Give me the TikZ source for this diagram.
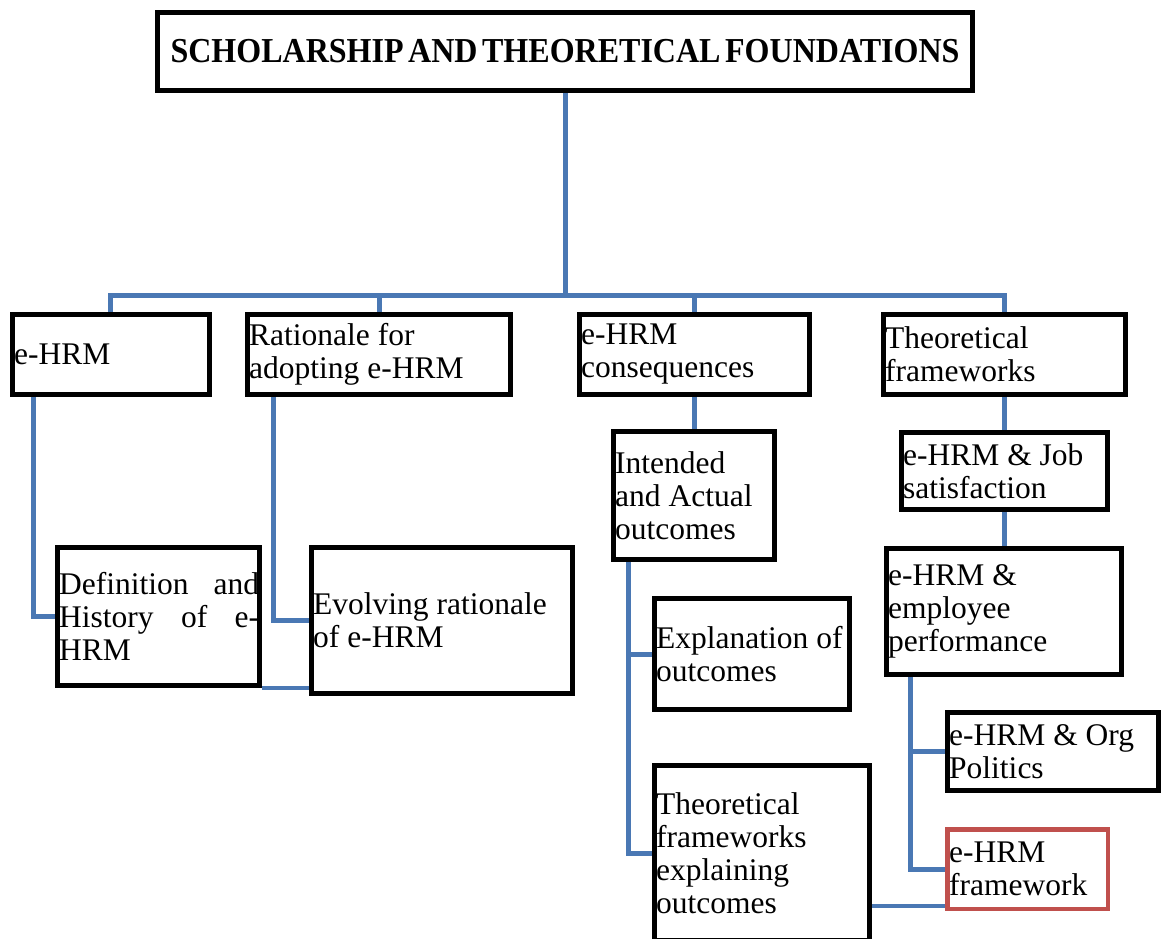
\documentclass[tikz,border=0pt]{standalone}
\usepackage{fontspec}
\setmainfont{Liberation Serif}
\usetikzlibrary{backgrounds}
\definecolor{linkblue}{RGB}{74,120,180}
\definecolor{accentred}{RGB}{192,80,77}
\begin{document}
\begin{tikzpicture}[x=1pt,y=-1pt,
  box/.style={draw=black, line width=5pt, fill=white, inner sep=0pt},
  txt/.style={anchor=west, align=left, inner sep=0pt, xshift=4pt,
              font=\fontsize{31.5}{33}\selectfont},
  conn/.style={draw=linkblue, line width=5pt},
  thinconn/.style={draw=linkblue, line width=3.2pt}]
\useasboundingbox (0,0) rectangle (1162,939);

% top level
\node[box, minimum width=815, minimum height=78] (title) at (565,51.5)
  {\scalebox{0.915}[1]{\fontsize{35}{36}\selectfont\bfseries
   SCHOLARSHIP\hspace{5pt}AND\hspace{5pt}THEORETICAL\hspace{5pt}FOUNDATIONS}};

% first row
\node[box, minimum width=197, minimum height=80] (ehrm) at (111,354.5) {};
\node[box, minimum width=263, minimum height=80] (rat)  at (379,354.5) {};
\node[box, minimum width=230, minimum height=80] (cons) at (694.5,354.5) {};
\node[box, minimum width=242, minimum height=80] (theo) at (1004.5,354.5) {};
\node[txt] (ehrm-t) at (ehrm.west) {e-HRM};
\node[txt] (rat-t)  at (rat.west)  {Rationale for\\adopting e-HRM};
\node[txt] (cons-t) at (cons.west) {e-HRM\\consequences};
\node[txt] (theo-t) at (theo.west) {Theoretical\\frameworks};

% lower levels
\node[box, minimum width=202, minimum height=138] (defn) at (158.5,616.5) {};
\node[box, minimum width=261, minimum height=146] (evol) at (442,620.5) {};
\node[box, minimum width=161, minimum height=128] (intd) at (694,495.5) {};
\node[box, minimum width=195, minimum height=111] (expl) at (752,654) {};
\node[box, minimum width=215, minimum height=175] (texp) at (762,853) {};
\node[box, minimum width=206, minimum height=77]  (job)  at (1004.5,471) {};
\node[box, minimum width=235, minimum height=126] (perf) at (1004,611.5) {};
\node[box, minimum width=211, minimum height=78]  (org)  at (1053,751.5) {};
\node[box, draw=accentred, line width=4.5pt, minimum width=160.5, minimum height=79.5]
  (frame) at (1027.5,869) {};

\node[txt] (defn-t) at (defn.west)
  {\makebox[200pt][s]{Definition and}\\\makebox[200pt][s]{History of e-}\\HRM};
\node[txt] (evol-t) at (evol.west) {Evolving rationale\\of e-HRM};
\node[txt] (intd-t) at (intd.west) {Intended\\and Actual\\outcomes};
\node[txt] (expl-t) at (expl.west) {Explanation of\\outcomes};
\node[txt] (texp-t) at (texp.west) {Theoretical\\frameworks\\explaining\\outcomes};
\node[txt] (job-t)  at (job.west)  {e-HRM \& Job\\satisfaction};
\node[txt] (perf-t) at (perf.west) {e-HRM \&\\employee\\performance};
\node[txt] (org-t)  at (org.west)  {e-HRM \& Org\\Politics};
\node[txt] (frame-t) at (frame.west) {e-HRM\\framework};

% connectors
\coordinate (busy) at (0,295);
\coordinate (thinL) at ([yshift=5pt]frame.south west);
\begin{scope}[on background layer]
  \draw[conn] (title.south) -- (title.south |- busy);
  \draw[conn] ([xshift=-1pt]ehrm.north) |- (theo.north |- busy) -- (theo.north);
  \draw[conn] (rat.north) -- (rat.north |- busy);
  \draw[conn] (cons.north) -- (cons.north |- busy);

  \draw[conn] ([xshift=-78pt]ehrm.south) |- (defn.west);
  \draw[conn] ([xshift=-106pt]rat.south) |- (evol.west);
  \draw[thinconn] (defn.south east) -- (defn.south east -| evol.west);

  \draw[conn] (intd.north |- cons.south) -- (intd.north);
  \draw[conn] ([xshift=-66pt]intd.south) |- (texp.west);
  \draw[conn] ([xshift=-66pt]intd.south |- expl.west) -- (expl.west);

  \draw[conn] (job.north |- theo.south) -- (job.north);
  \draw[conn] (perf.north |- job.south) -- (perf.north);
  \draw[conn] ([xshift=-94pt]perf.south) |- (frame.west);
  \draw[conn] ([xshift=-94pt]perf.south |- org.west) -- (org.west);
  \draw[thinconn] (thinL) -- (thinL -| texp.east);
\end{scope}
\end{tikzpicture}
\end{document}
